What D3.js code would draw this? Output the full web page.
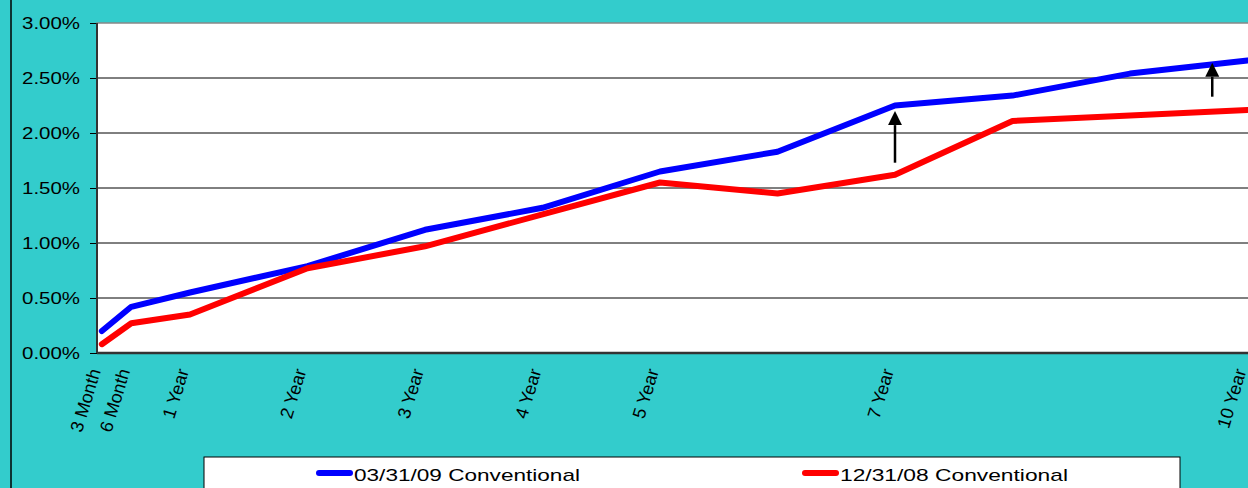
<!DOCTYPE html>
<html>
<head>
<meta charset="utf-8">
<script src="https://cdn.jsdelivr.net/npm/d3@7"></script>
<style>
    body { margin: 0; overflow: hidden; }
    text { font-family: "Liberation Sans", Arial, sans-serif; }
</style>
</head>
<body>
<script>
// maturities in years, with the tick labels shown under the axis
var maturities = [0.25, 0.5, 1, 2, 3, 4, 5, 6, 7, 8, 9, 10];
var tickYears = [0.25, 0.5, 1, 2, 3, 4, 5, 7, 10];
var tickLabels = ["3 Month", "6 Month", "1 Year", "2 Year", "3 Year", "4 Year", "5 Year", "7 Year", "10 Year"];

// yields in percent
var mar09 = [0.20, 0.42, 0.55, 0.79, 1.12, 1.32, 1.65, 1.83, 2.25, 2.34, 2.54, 2.66];
var dec08 = [0.08, 0.27, 0.35, 0.77, 0.97, 1.26, 1.55, 1.45, 1.62, 2.11, 2.16, 2.21];

var seriesNames = ["03/31/09 Conventional", "12/31/08 Conventional"];
var seriesColors = ["#0000FF", "#FF0000"];

var yTicks = [0, 0.5, 1, 1.5, 2, 2.5, 3];

// arrows: [year, from %, to %]
var arrows = [[7, 1.73, 2.19], [9.7, 2.33, 2.63]];

window.onload = function(){
    var w = 1248, h = 488;
    var plotLeft = 97, plotTop = 23, plotBottom = 353;

    var svg = d3.select("body")
        .append("svg")
        .attr("width", w)
        .attr("height", h)
        .style("background-color", "#33CCCC");

    svg.append("line")  //thin black frame line on the far left
        .attr("x1", 11).attr("x2", 11)
        .attr("y1", 0).attr("y2", h)
        .style("stroke", "#000")
        .style("stroke-width", 1.5);

    var x = d3.scaleLinear()
        .domain([0, 10])
        .range([72.5, 1247.5]);

    var y = d3.scaleLinear()
        .domain([0, 3])
        .range([plotBottom, plotTop]);

    svg.append("rect")  //white plot area, runs off the right edge
        .attr("x", plotLeft)
        .attr("y", plotTop)
        .attr("width", w - plotLeft + 10)
        .attr("height", plotBottom - plotTop)
        .style("fill", "#fff")
        .style("stroke", "#888")
        .style("stroke-width", 1.5);

    svg.selectAll(".grid")  //horizontal gridlines
        .data(yTicks.slice(1, -1))
        .enter()
        .append("line")
        .attr("class", "grid")
        .attr("x1", plotLeft).attr("x2", w)
        .attr("y1", function(d){ return y(d); })
        .attr("y2", function(d){ return y(d); })
        .style("stroke", "#000")
        .style("stroke-width", 1);

    var yAxis = d3.axisLeft(y)
        .tickValues(yTicks)
        .tickSize(7)
        .tickPadding(10)
        .tickFormat(function(d){ return d.toFixed(2) + "%"; });

    var yg = svg.append("g")
        .attr("transform", "translate(" + plotLeft + ",0)")
        .call(yAxis);
    yg.select(".domain").remove();
    yg.selectAll("line").style("stroke", "#000");
    yg.selectAll("text")
        .style("font-size", "17px")
        .style("fill", "#000")
        .attr("textLength", 58)    //the source text is stretched sideways
        .attr("lengthAdjust", "spacingAndGlyphs");

    var line = d3.line()
        .x(function(d){ return x(d[0]); })
        .y(function(d){ return y(d[1]); });

    [mar09, dec08].forEach(function(vals, i){   //draw the two yield curves
        svg.append("path")
            .datum(d3.zip(maturities, vals))
            .attr("d", line)
            .style("fill", "none")
            .style("stroke", seriesColors[i])
            .style("stroke-width", 6)
            .style("stroke-linejoin", "round")
            .style("stroke-linecap", "round");
    });

    svg.append("line")  //left axis line
        .attr("x1", plotLeft).attr("x2", plotLeft)
        .attr("y1", plotTop).attr("y2", plotBottom)
        .style("stroke", "#333")
        .style("stroke-width", 2);

    svg.append("line")  //bottom axis line
        .attr("x1", plotLeft).attr("x2", w)
        .attr("y1", plotBottom).attr("y2", plotBottom)
        .style("stroke", "#333")
        .style("stroke-width", 2.5);

    svg.append("defs").append("marker")
        .attr("id", "head")
        .attr("viewBox", "0 0 10 10")
        .attr("refX", 5).attr("refY", 10)
        .attr("markerWidth", 15).attr("markerHeight", 14)
        .attr("markerUnits", "userSpaceOnUse")
        .attr("orient", "0")
        .append("path")
        .attr("d", "M0,10 L5,0 L10,10 Z")
        .style("fill", "#000");

    svg.selectAll(".arrow")
        .data(arrows)
        .enter()
        .append("line")
        .attr("class", "arrow")
        .attr("x1", function(d){ return x(d[0]); })
        .attr("x2", function(d){ return x(d[0]); })
        .attr("y1", function(d){ return y(d[1]); })
        .attr("y2", function(d){ return y(d[2]) + 13; })
        .style("stroke", "#000")
        .style("stroke-width", 2.5)
        .attr("marker-end", "url(#head)");

    svg.selectAll(".xlab")  //rotated maturity labels
        .data(tickYears)
        .enter()
        .append("text")
        .attr("class", "xlab")
        .attr("text-anchor", "end")
        .attr("transform", function(d){
            return "translate(" + (x(d) - 1) + ",371) rotate(-73)";
        })
        .style("font-size", "18px")
        .text(function(d, i){ return tickLabels[i]; });

    var legend = svg.append("g");
    legend.append("rect")
        .attr("x", 204).attr("y", 457)
        .attr("width", 976).attr("height", 40)
        .style("fill", "#fff")
        .style("stroke", "#000")
        .style("stroke-width", 1);

    var legendX = [316, 802];
    var legendLen = [226, 228];
    seriesNames.forEach(function(name, i){
        legend.append("line")
            .attr("x1", legendX[i] + 3).attr("x2", legendX[i] + 34)
            .attr("y1", 473).attr("y2", 473)
            .style("stroke", seriesColors[i])
            .style("stroke-width", 6)
            .style("stroke-linecap", "round");
        legend.append("text")
            .attr("x", legendX[i] + 38)
            .attr("y", 481)
            .style("font-size", "17px")
            .attr("textLength", legendLen[i])
            .attr("lengthAdjust", "spacingAndGlyphs")
            .text(name);
    });
};
</script>
</body>
</html>
